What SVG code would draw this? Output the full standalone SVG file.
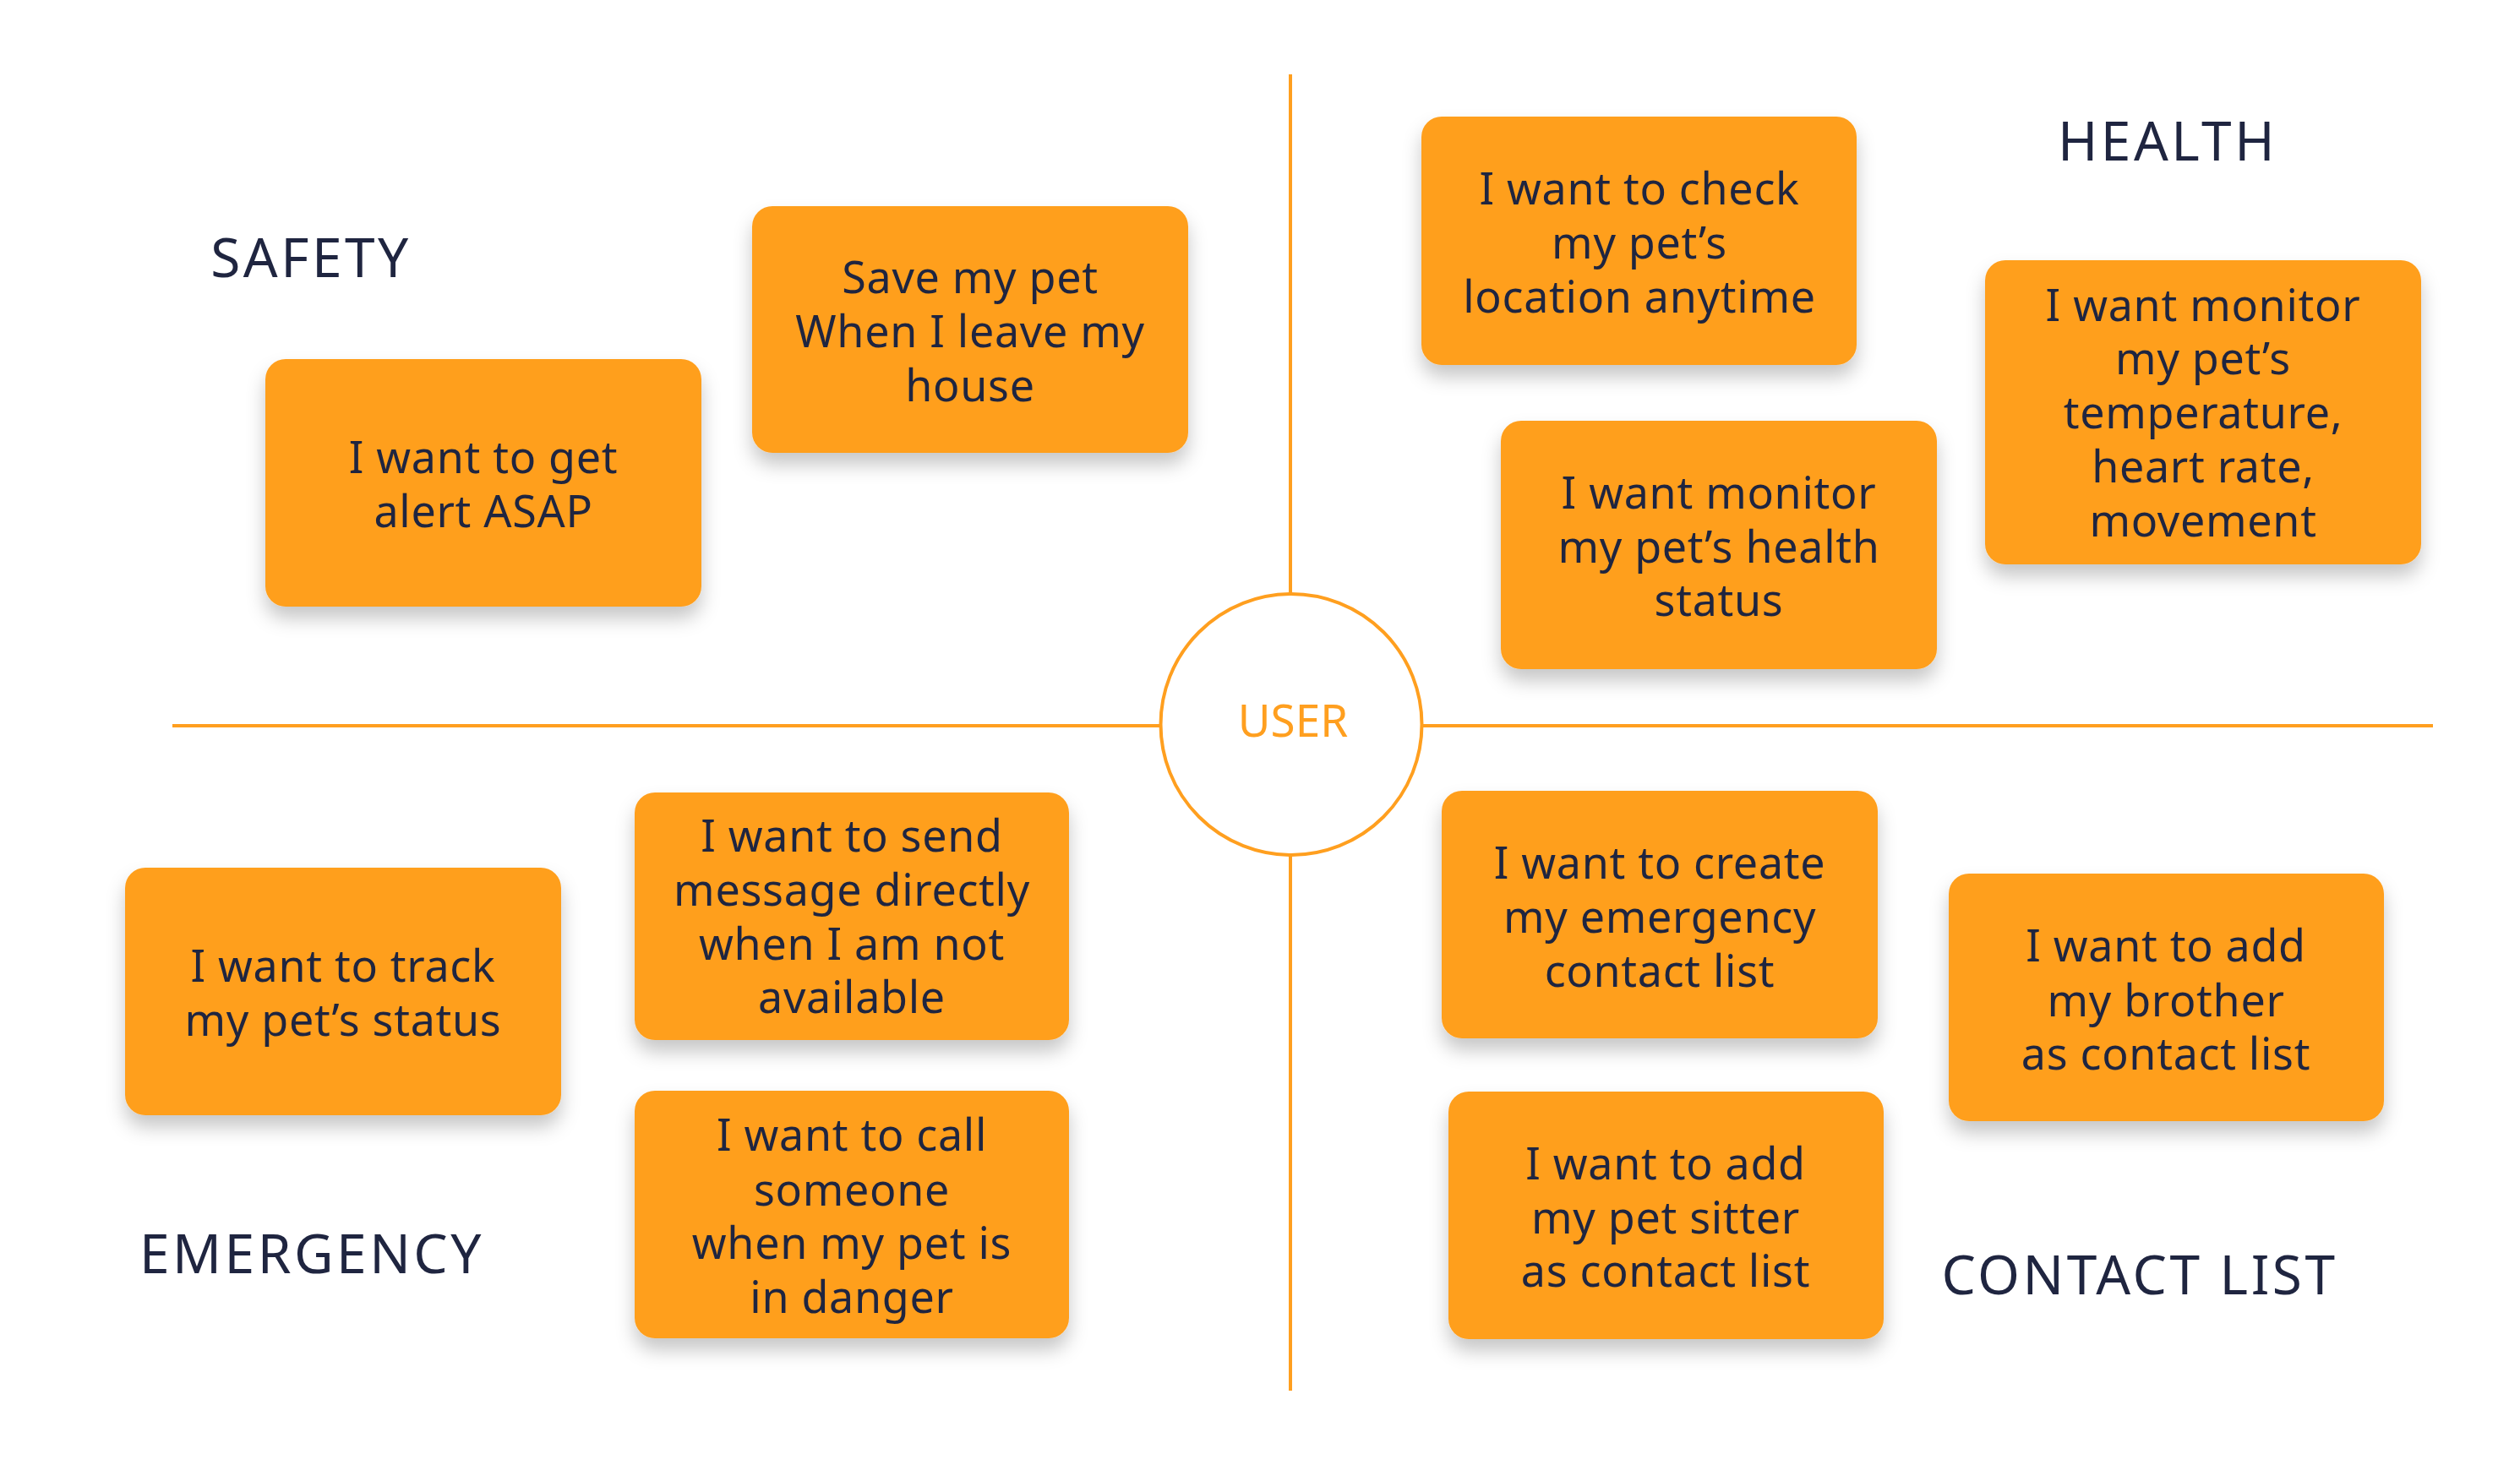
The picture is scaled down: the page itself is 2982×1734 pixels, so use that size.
<svg xmlns="http://www.w3.org/2000/svg" width="2982" height="1734" viewBox="0 0 2982 1734">
  <defs>
    <filter id="shadow" x="-10%" y="-10%" width="120%" height="135%">
      <feDropShadow dx="0" dy="14" stdDeviation="11" flood-color="#000000" flood-opacity="0.22"/>
    </filter>
    <style>
      .card { fill: #FF9F1F; filter: url(#shadow); }
      .ctext { font-family: "Noto Sans", "Open Sans", sans-serif; font-size: 52px; fill: #1F2540; text-anchor: middle; letter-spacing: 0.7px; }
      .head { font-family: "Noto Sans", "Open Sans", sans-serif; font-size: 64px; fill: #1F2540; text-anchor: middle; letter-spacing: 3.5px; }
      .axis { stroke: #FF9F1F; stroke-width: 4; fill: none; }
      .user { fill: #FFFFFF; stroke: #FF9F1F; stroke-width: 4; }
      .utext { font-family: "Noto Sans", "Open Sans", sans-serif; font-size: 53px; fill: #FF9F1F; text-anchor: middle; }
    </style>
  </defs>
  <rect width="2982" height="1734" fill="#FFFFFF"/>

  <g id="connectors">
    <line class="axis" x1="204" y1="859" x2="1373" y2="859"/>
    <line class="axis" x1="1683" y1="859" x2="2879" y2="859"/>
    <line class="axis" x1="1527" y1="88" x2="1527" y2="703"/>
    <line class="axis" x1="1527" y1="1012" x2="1527" y2="1646"/>
  </g>

  <g id="user">
    <circle class="user" cx="1528" cy="857.5" r="154.5"/>
    <text class="utext" x="1530" y="872">USER</text>
  </g>

  <g id="heading-safety"><text class="head" x="368" y="328">SAFETY</text></g>
  <g id="heading-health"><text class="head" x="2565" y="190">HEALTH</text></g>
  <g id="heading-emergency"><text class="head" x="369" y="1507">EMERGENCY</text></g>
  <g id="heading-contact"><text class="head" x="2532" y="1532">CONTACT LIST</text></g>

  <g id="card-alert">
    <rect class="card" x="314" y="425" width="516" height="293" rx="24"/>
    <text class="ctext" x="572" y="560">I want to get</text>
    <text class="ctext" x="572" y="624">alert ASAP</text>
  </g>

  <g id="card-save">
    <rect class="card" x="890" y="244" width="516" height="292" rx="24"/>
    <text class="ctext" x="1148" y="347">Save my pet</text>
    <text class="ctext" x="1148" y="411">When I leave my</text>
    <text class="ctext" x="1148" y="475">house</text>
  </g>

  <g id="card-location">
    <rect class="card" x="1682" y="138" width="515" height="294" rx="24"/>
    <text class="ctext" x="1940" y="242">I want to check</text>
    <text class="ctext" x="1940" y="306">my pet’s</text>
    <text class="ctext" x="1940" y="370">location anytime</text>
  </g>

  <g id="card-temperature">
    <rect class="card" x="2349" y="308" width="516" height="360" rx="24"/>
    <text class="ctext" x="2607" y="380">I want monitor</text>
    <text class="ctext" x="2607" y="443">my pet’s</text>
    <text class="ctext" x="2607" y="507">temperature,</text>
    <text class="ctext" x="2607" y="571">heart rate,</text>
    <text class="ctext" x="2607" y="635">movement</text>
  </g>

  <g id="card-health">
    <rect class="card" x="1776" y="498" width="516" height="294" rx="24"/>
    <text class="ctext" x="2034" y="602">I want monitor</text>
    <text class="ctext" x="2034" y="666">my pet’s health</text>
    <text class="ctext" x="2034" y="729">status</text>
  </g>

  <g id="card-track">
    <rect class="card" x="148" y="1027" width="516" height="293" rx="24"/>
    <text class="ctext" x="406" y="1162">I want to track</text>
    <text class="ctext" x="406" y="1226">my pet’s status</text>
  </g>

  <g id="card-message">
    <rect class="card" x="751" y="938" width="514" height="293" rx="24"/>
    <text class="ctext" x="1008" y="1008">I want to send</text>
    <text class="ctext" x="1008" y="1072">message directly</text>
    <text class="ctext" x="1008" y="1136">when I am not</text>
    <text class="ctext" x="1008" y="1199">available</text>
  </g>

  <g id="card-call">
    <rect class="card" x="751" y="1291" width="514" height="293" rx="24"/>
    <text class="ctext" x="1008" y="1362">I want to call</text>
    <text class="ctext" x="1008" y="1427">someone</text>
    <text class="ctext" x="1008" y="1490">when my pet is</text>
    <text class="ctext" x="1008" y="1554">in danger</text>
  </g>

  <g id="card-create">
    <rect class="card" x="1706" y="936" width="516" height="293" rx="24"/>
    <text class="ctext" x="1964" y="1040">I want to create</text>
    <text class="ctext" x="1964" y="1104">my emergency</text>
    <text class="ctext" x="1964" y="1168">contact list</text>
  </g>

  <g id="card-brother">
    <rect class="card" x="2306" y="1034" width="515" height="293" rx="24"/>
    <text class="ctext" x="2563" y="1138">I want to add</text>
    <text class="ctext" x="2563" y="1203">my brother</text>
    <text class="ctext" x="2563" y="1266">as contact list</text>
  </g>

  <g id="card-sitter">
    <rect class="card" x="1714" y="1292" width="515" height="293" rx="24"/>
    <text class="ctext" x="1971" y="1396">I want to add</text>
    <text class="ctext" x="1971" y="1460">my pet sitter</text>
    <text class="ctext" x="1971" y="1523">as contact list</text>
  </g>
</svg>
